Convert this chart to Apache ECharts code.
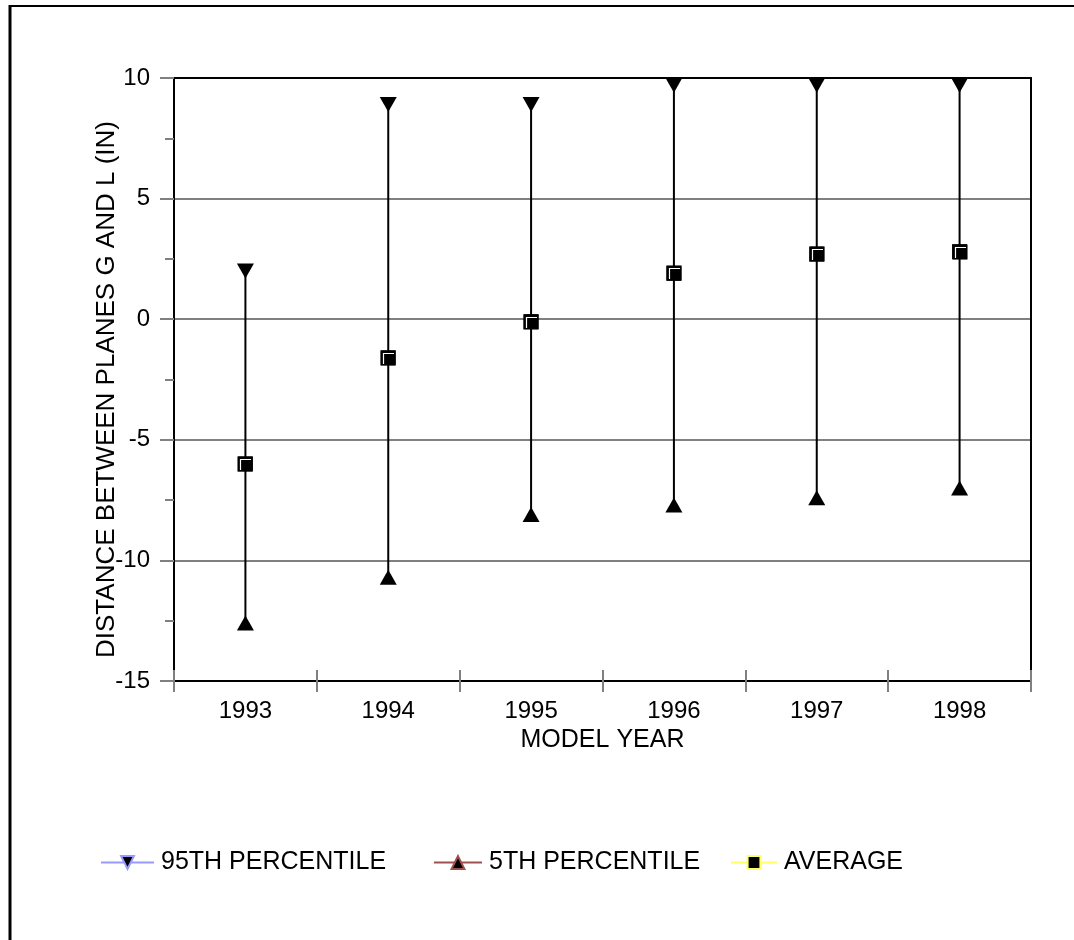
<!DOCTYPE html>
<html>
<head>
<meta charset="utf-8">
<script src="https://cdn.jsdelivr.net/npm/echarts@6/dist/echarts.min.js"></script>
<style>html,body{margin:0;padding:0;background:#fff;}#c{width:1074px;height:940px;}</style>
</head>
<body>
<div id="c"></div>
<script>
const years = ['1993','1994','1995','1996','1997','1998'];
const p95 = [2.0, 8.9, 8.9, 9.7, 9.7, 9.7];
const p5 = [-12.6, -10.7, -8.1, -7.7, -7.4, -7.0];
const avg = [-6.0, -1.6, -0.1, 1.9, 2.7, 2.8];
const yTicks = { min: -15, max: 10, interval: 5 };

const FONT = 'Liberation Sans, Arial, sans-serif';
const chart = echarts.init(document.getElementById('c'));
const rangeData = years.map((y, i) => [i, p5[i], p95[i]]);
const avgData = years.map((y, i) => [i, avg[i]]);

const legendItem = (name, col, left, w) => ({
  left: left, top: 845, itemWidth: w, itemHeight: 16, itemGap: 10,
  textStyle: { fontFamily: FONT, fontSize: 25, color: '#000', padding: [0, 0, 0, 2] },
  data: [{ name: name, itemStyle: { color: '#000', borderColor: col, borderWidth: 2 },
           lineStyle: { color: col, width: 2, opacity: 1 } }]
});

chart.setOption({
  animation: false,
  backgroundColor: '#fff',
  textStyle: { fontFamily: FONT },
  grid: { left: 174, right: 43, top: 78, bottom: 259 },
  legend: [
    legendItem('95TH PERCENTILE', '#9999ff', 95, 53),
    legendItem('5TH PERCENTILE', '#a0504f', 428, 48),
    legendItem('AVERAGE', '#ffff66', 725, 46)
  ],
  xAxis: [
    { type: 'category', data: years, position: 'bottom', boundaryGap: true,
      axisLine: { onZero: false, lineStyle: { color: '#000', width: 2 } },
      axisTick: { show: true, length: 11, lineStyle: { color: '#808080', width: 2 } },
      axisLabel: { fontSize: 24, color: '#000', margin: 18, fontFamily: FONT },
      name: 'MODEL YEAR', nameLocation: 'middle', nameGap: 45,
      nameTextStyle: { fontSize: 25, color: '#000', fontFamily: FONT },
      splitLine: { show: false } },
    { type: 'category', data: years, position: 'top',
      axisLine: { onZero: false, lineStyle: { color: '#000', width: 2 } },
      axisTick: { show: false }, axisLabel: { show: false }, splitLine: { show: false } },
    { type: 'category', data: years, position: 'bottom',
      axisLine: { onZero: false, show: false },
      axisTick: { show: true, inside: true, length: 11, lineStyle: { color: '#808080', width: 2 } },
      axisLabel: { show: false }, splitLine: { show: false } }
  ],
  yAxis: [
    { type: 'value', min: yTicks.min, max: yTicks.max, interval: yTicks.interval, position: 'left',
      axisLine: { show: true, onZero: false, lineStyle: { color: '#000', width: 2 } },
      axisTick: { show: true, length: 14, lineStyle: { color: '#808080', width: 2 } },
      minorTick: { show: true, splitNumber: 2, length: 9, lineStyle: { color: '#808080', width: 2 } },
      axisLabel: { fontSize: 24, color: '#000', margin: 24, fontFamily: FONT },
      splitLine: { show: true, lineStyle: { color: '#808080', width: 2 } },
      name: 'DISTANCE BETWEEN PLANES G AND L (IN)', nameLocation: 'middle', nameGap: 54,
      nameMoveOverlap: false,
      nameTextStyle: { fontSize: 26, color: '#000', fontFamily: FONT, padding: [0, 20, 0, 0] } },
    { type: 'value', min: yTicks.min, max: yTicks.max, interval: yTicks.interval, position: 'left',
      axisLine: { show: false, onZero: false }, axisTick: { show: false },
      minorTick: { show: true, splitNumber: 2, length: 8, lineStyle: { color: '#808080', width: 2 } },
      axisLabel: { show: false }, splitLine: { show: false } },
    { type: 'value', min: yTicks.min, max: yTicks.max, interval: yTicks.interval, position: 'right',
      axisLine: { show: true, onZero: false, lineStyle: { color: '#000', width: 2 } },
      axisTick: { show: false }, axisLabel: { show: false }, splitLine: { show: false } }
  ],
  series: [
    { type: 'custom', name: 'range', xAxisIndex: 0, yAxisIndex: 0, z: 3,
      renderItem: function (params, api) {
        const a = api.coord([api.value(0), api.value(1)]);
        const b = api.coord([api.value(0), api.value(2)]);
        return { type: 'line', shape: { x1: a[0], y1: a[1], x2: b[0], y2: b[1] },
                 style: { stroke: '#000', lineWidth: 2 } };
      },
      data: rangeData, silent: true },
    { type: 'line', name: '95TH PERCENTILE', data: p95, z: 5,
      symbol: 'triangle', symbolRotate: 180, symbolSize: [17, 15],
      itemStyle: { color: '#000' }, lineStyle: { width: 0, opacity: 0 } },
    { type: 'line', name: '5TH PERCENTILE', data: p5, z: 5,
      symbol: 'triangle', symbolSize: [17, 15],
      itemStyle: { color: '#000' }, lineStyle: { width: 0, opacity: 0 } },
    { type: 'line', name: 'AVERAGE', data: avg, z: 5,
      symbol: 'rect', symbolSize: 15,
      itemStyle: { color: '#000', borderWidth: 0 }, lineStyle: { width: 0, opacity: 0 } },
    { type: 'custom', name: 'avg-marker', z: 8, silent: true,
      renderItem: function (params, api) {
        const c = api.coord([api.value(0), api.value(1)]);
        const x = Math.round(c[0]), y = Math.round(c[1]);
        return { type: 'group', children: [
          { type: 'rect', shape: { x: x - 7.5, y: y - 7.5, width: 15, height: 15 }, style: { fill: '#000' } },
          { type: 'polyline', shape: { points: [[x - 4.5, y + 6], [x - 4.5, y - 4.5], [x + 6, y - 4.5]] },
            style: { stroke: '#fff', lineWidth: 1.2, fill: null } }
        ] };
      },
      data: avgData }
  ],
  graphic: [
    { type: 'line', shape: { x1: 9, y1: 6, x2: 1074, y2: 6 }, style: { stroke: '#000', lineWidth: 2 } },
    { type: 'line', shape: { x1: 10, y1: 5, x2: 10, y2: 940 }, style: { stroke: '#000', lineWidth: 3 } }
  ]
});
</script>
</body>
</html>
